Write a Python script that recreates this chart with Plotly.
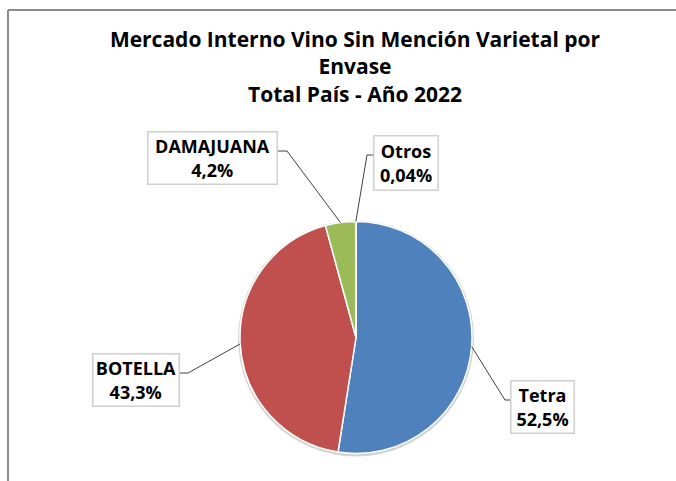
import math
import plotly.graph_objects as go

# ---- data ----
categories = ["Tetra", "BOTELLA", "DAMAJUANA", "Otros"]
shares = [52.5, 43.3, 4.2, 0.04]
colors = ["#4F81BD", "#C0504D", "#9BBB59", "#8064A2"]
title_lines = ["Mercado Interno Vino Sin Mención Varietal por", "Envase", "Total País - Año 2022"]

# ---- layout constants (pixels) ----
W, H = 676, 481
CX, CY, R = 356, 337.5, 116
# label box: centre x, centre y, width, height, elbow x, elbow y, box edge x
label_boxes = {
    "Tetra":     (542.5, 407, 65, 54, 505, 400, 510),
    "BOTELLA":   (136, 380, 88, 54, 188, 373, 180),
    "DAMAJUANA": (212.5, 158, 131, 54, 287, 151, 278),
    "Otros":     (406, 163, 66, 56, 367, 155, 373),
}

def px(x):
    return x / W

def py(y):
    return 1 - y / H

fig = go.Figure()
fig.add_trace(go.Pie(
    labels=categories,
    values=shares,
    sort=False,
    direction="clockwise",
    rotation=0,
    textinfo="none",
    hoverinfo="label+percent",
    marker=dict(colors=colors, line=dict(color="white", width=1.5)),
    domain=dict(x=[px(CX - R), px(CX + R)], y=[py(CY + R), py(CY - R)]),
    showlegend=False,
))

FONT = "Open Sans"
total = sum(shares)
cum = 0.0
shapes = []
annotations = []

# soft edge around the pie
shapes.append(dict(type="circle", xref="paper", yref="paper", layer="below",
                   x0=px(CX - R - 2), x1=px(CX + R + 2), y0=py(CY + R + 3), y1=py(CY - R - 1),
                   fillcolor="#D4D4D4", line=dict(width=0)))

for cat, v in zip(categories, shares):
    mid = (cum + v / 2) / total * 2 * math.pi
    cum += v
    ex = CX + R * math.sin(mid)
    ey = CY - R * math.cos(mid)
    bx, by, bw, bh, kx, ky, edge = label_boxes[cat]
    path = f"M {px(ex)} {py(ey)} L {px(kx)} {py(ky)} L {px(edge)} {py(ky)}"
    shapes.append(dict(type="path", xref="paper", yref="paper", path=path,
                       line=dict(color="#404040", width=1)))
    pct = f"{v:g}".replace(".", ",") + "%"
    annotations.append(dict(
        x=px(bx), y=py(by), xref="paper", yref="paper",
        xanchor="center", yanchor="middle", showarrow=False,
        text=f"<b>{cat}</b><br><b>{pct}</b>", align="center",
        font=dict(family=FONT, size=18, color="black"),
        bgcolor="white", bordercolor="#D0D0D0", borderwidth=1.5, borderpad=0,
        width=bw - 3, height=bh - 3,
    ))

# outer chart border (top and left visible)
shapes.append(dict(type="line", xref="paper", yref="paper", x0=px(8), x1=px(W + 2),
                   y0=py(10), y1=py(10), line=dict(color="#8C8C8C", width=2)))
shapes.append(dict(type="line", xref="paper", yref="paper", x0=px(8), x1=px(8),
                   y0=py(10), y1=py(H + 2), line=dict(color="#8C8C8C", width=2)))

fig.update_layout(
    width=W, height=H,
    margin=dict(l=0, r=0, t=0, b=0),
    paper_bgcolor="white",
    plot_bgcolor="white",
    title=dict(text="<b>" + "<br>".join(title_lines) + "</b>",
               x=px(355), xanchor="center", y=py(47), yanchor="top",
               font=dict(family=FONT, size=21, color="black")),
    shapes=shapes,
    annotations=annotations,
)

fig.write_html("out.html", config={"displayModeBar": False},
               post_script="document.body.style.margin='0px';")
